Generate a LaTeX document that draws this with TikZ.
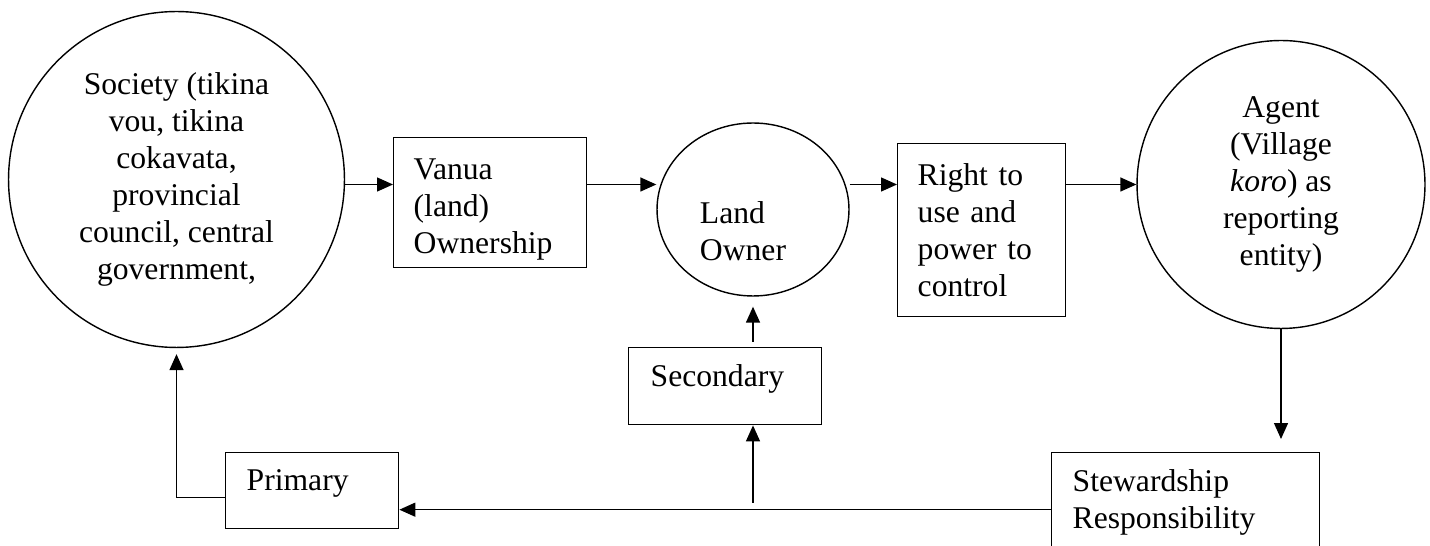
\documentclass[tikz,border=0pt]{standalone}
\usepackage{fontspec}
\setmainfont{Liberation Serif}
\usetikzlibrary{arrows.meta,shapes.geometric}

\tikzset{
	every node/.style={font=\fontsize{18}{21}\selectfont},
	blob/.style={draw, circle, line width=0.8pt, align=center, inner sep=0pt},
	box/.style={draw, rectangle, line width=0.8pt, align=left, anchor=north west, inner xsep=0.4cm, inner ysep=0pt},
	lift/.style={text depth=0.44cm},
	arr/.style={line width=0.8pt, -{Triangle[length=0.32cm, width=0.28cm]}}
}

\begin{document}
\begin{tikzpicture}[x=0.02cm, y=-0.02cm]
			%%%%% START %%%%%
			\useasboundingbox (0, 0) rectangle (1430, 546);
			
			\node[blob, minimum size=6.72cm] (soc) at (176.5, 179.5) {Society (tikina\\vou, tikina\\cokavata,\\provincial\\council, central\\government,};
			\node[box, text height=0.68cm, text width=3.06cm, minimum height=2.6cm] (vanua) at (393, 137) {Vanua\\(land)\\Ownership};
			\node[draw, ellipse, line width=0.8pt, minimum width=3.84cm, minimum height=3.46cm,
				label={[align=left, xshift=-0.2cm, yshift=-0.44cm]center:Land\\Owner}] (land) at (753, 209.5) {};
			\node[box, text width=2.56cm, minimum height=3.46cm] (right) at (897, 143) {Right to\\use and\\power to\\control};
			\node[blob, minimum size=5.76cm] (agent) at (1281, 184.5) {Agent\\(Village\\\textit{koro}) as\\reporting\\entity)};
			
			\node[box, lift, inner xsep=0.44cm, text width=2.98cm, minimum height=1.54cm] (sec) at (628, 347) {Secondary};
			\node[box, lift, inner xsep=0.42cm, text width=2.62cm, minimum height=1.52cm] (prim) at (225, 452) {Primary};
			% box runs off the bottom edge
			\node[box, inner xsep=0.42cm, text width=4.52cm, minimum height=1.98cm] (stew) at (1051, 452) {Stewardship\\Responsibility};
			
			% top row
			\draw[arr] (soc.east |- agent.west) -- (vanua.west |- agent.west);
			\draw[arr] (vanua.east |- agent.west) -- (land.west |- agent.west);
			\draw[arr] (land.east |- agent.west) -- (right.west |- agent.west);
			\draw[arr] (right.east |- agent.west) -- (agent.west);
			
			% feedback
			\draw[arr, shorten >=0.26cm] (agent.south) -- (agent.south |- stew.north);
			\coordinate (back) at ([yshift=-0.15cm]stew.west);
			\coordinate (split) at (land.south |- back);
			\draw[arr] (back) -- (prim.east |- back);
			\draw[arr] ([yshift=0.14cm]split) -- (sec.south -| split);
			\draw[arr, shorten <=0.1cm, shorten >=0.2cm] (sec.north -| split) -- (land.south);
			\draw[arr, shorten >=0.12cm] ([yshift=-0.14cm]prim.west) -| (soc.south);
			
			%%%%% END %%%%%
\end{tikzpicture}
\end{document}
